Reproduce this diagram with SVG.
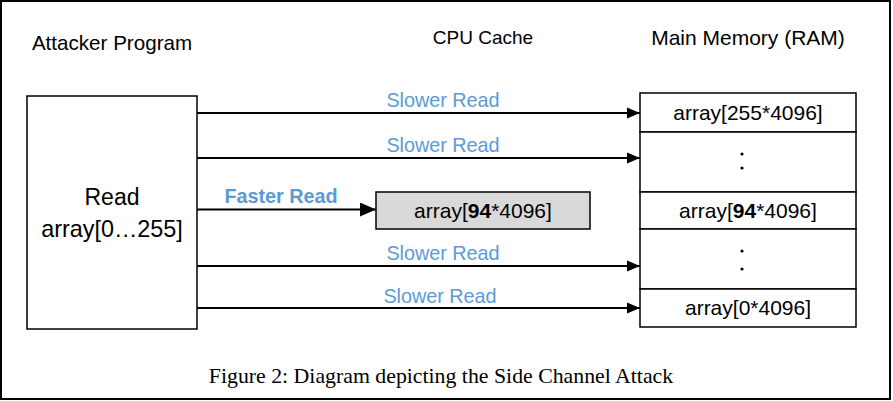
<svg xmlns="http://www.w3.org/2000/svg" width="893" height="401" viewBox="0 0 893 401">
<style>
.lbl{font-family:"Liberation Sans",Arial,sans-serif;fill:#000;}
.hdr{text-anchor:middle;}
.blue{fill:#5B9BD5;font-size:19.8px;text-anchor:middle;}
.box{fill:#fff;stroke:#000;stroke-width:1.5;}
.cell{font-size:21px;text-anchor:middle;}
.conn{stroke:#000;stroke-width:2;fill:none;}
.cap{font-family:"Liberation Serif","Times New Roman",serif;font-size:21.8px;text-anchor:middle;}
</style>
<defs>
<marker id="ah" markerWidth="14" markerHeight="12" refX="13" refY="6" orient="auto" markerUnits="userSpaceOnUse">
<path d="M0,0.5 L13,6 L0,11.5 Z" fill="#000"/>
</marker>
<marker id="ahb" markerWidth="17" markerHeight="14" refX="16" refY="7" orient="auto" markerUnits="userSpaceOnUse">
<path d="M0,0 L16,7 L0,14 Z" fill="#000"/>
</marker>
</defs>
<rect x="0" y="0" width="893" height="401" fill="#fff"/>
<rect x="1" y="1" width="889" height="398" fill="none" stroke="#000" stroke-width="2"/>

<text class="lbl hdr" x="112" y="50" font-size="20.6">Attacker Program</text>
<text class="lbl hdr" x="483" y="44" font-size="19">CPU Cache</text>
<text class="lbl hdr" x="748" y="45" font-size="21">Main Memory (RAM)</text>

<g id="attacker">
<rect class="box" x="27" y="96" width="170" height="233"/>
<text class="lbl" x="112" y="205" font-size="23" text-anchor="middle">Read</text>
<text class="lbl" x="112" y="237" font-size="23.4" text-anchor="middle">array[0…255]</text>
</g>

<g id="cache">
<rect x="376" y="192" width="214" height="37" fill="#d9d9d9" stroke="#000" stroke-width="1.5"/>
<text class="lbl cell" x="483" y="218">array[<tspan font-weight="bold">94</tspan>*4096]</text>
</g>

<g id="memory">
<rect class="box" x="640" y="93" width="216" height="39"/>
<text class="lbl cell" x="748" y="120">array[255*4096]</text>
<rect class="box" x="640" y="132" width="216" height="60"/>
<circle cx="742" cy="154" r="1.6" fill="#000"/>
<circle cx="742" cy="168" r="1.6" fill="#000"/>
<rect class="box" x="640" y="192" width="216" height="37"/>
<text class="lbl cell" x="748" y="218">array[<tspan font-weight="bold">94</tspan>*4096]</text>
<rect class="box" x="640" y="229" width="216" height="60"/>
<circle cx="742" cy="251" r="1.6" fill="#000"/>
<circle cx="742" cy="269" r="1.6" fill="#000"/>
<rect class="box" x="640" y="289" width="216" height="38"/>
<text class="lbl cell" x="748" y="315">array[0*4096]</text>
</g>

<g id="connectors">
<line class="conn" x1="197" y1="113" x2="640" y2="113" marker-end="url(#ah)"/>
<line class="conn" x1="197" y1="158" x2="640" y2="158" marker-end="url(#ah)"/>
<line class="conn" x1="197" y1="209.5" x2="376" y2="209.5" stroke-width="3" marker-end="url(#ahb)"/>
<line class="conn" x1="197" y1="266" x2="640" y2="266" marker-end="url(#ah)"/>
<line class="conn" x1="197" y1="308" x2="640" y2="308" marker-end="url(#ah)"/>
<text class="lbl blue" x="443" y="107">Slower Read</text>
<text class="lbl blue" x="443" y="152">Slower Read</text>
<text class="lbl blue" x="281" y="203" font-weight="bold" font-size="18.2">Faster Read</text>
<text class="lbl blue" x="443" y="260">Slower Read</text>
<text class="lbl blue" x="440" y="303">Slower Read</text>
</g>

<text class="cap" x="441" y="383">Figure 2: Diagram depicting the Side Channel Attack</text>
</svg>
